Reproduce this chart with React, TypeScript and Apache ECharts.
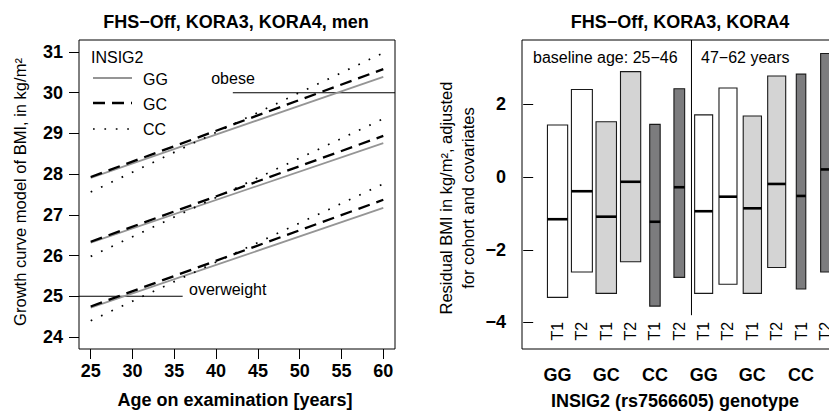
import React, { useEffect, useRef } from "react";
import * as echarts from "echarts";

// ---------- Left panel data (growth curve model) ----------
const ages = [25, 60];
const upperGG = [27.91, 30.39];
const upperGC = [27.93, 30.58];
const upperCC = [27.56, 30.98];
const middleGG = [26.32, 28.76];
const middleGC = [26.34, 28.94];
const middleCC = [25.98, 29.36];
const lowerGG = [24.72, 27.17];
const lowerGC = [24.75, 27.37];
const lowerCC = [24.4, 27.76];
const obeseLevel = 30;
const overweightLevel = 25;
const obeseFromAge = 42;
const overweightToAge = 36;
const leftXTicks = [25, 30, 35, 40, 45, 50, 55, 60];
const leftYTicks = [24, 25, 26, 27, 28, 29, 30, 31];

// ---------- Right panel data (residual BMI boxes) ----------
const boxPositions = [1, 2, 3, 4, 5, 6, 7, 8, 9, 10, 11, 12];
const boxGenotype = ["GG", "GG", "GC", "GC", "CC", "CC", "GG", "GG", "GC", "GC", "CC", "CC"];
const boxTimepoint = ["T1", "T2", "T1", "T2", "T1", "T2", "T1", "T2", "T1", "T2", "T1", "T2"];
const boxLow = [-3.31, -2.61, -3.2, -2.33, -3.55, -2.76, -3.2, -2.95, -3.2, -2.49, -3.08, -2.61];
const boxHigh = [1.43, 2.41, 1.52, 2.9, 1.45, 2.43, 1.71, 2.45, 1.68, 2.78, 2.83, 3.4];
const boxMedian = [-1.16, -0.39, -1.09, -0.13, -1.23, -0.28, -0.94, -0.54, -0.86, -0.19, -0.52, 0.21];
const boxWidth = [0.83, 0.86, 0.84, 0.83, 0.43, 0.44, 0.74, 0.74, 0.75, 0.74, 0.39, 0.39];
const rightYTicks = [-4, -2, 0, 2];
const genotypeLabelPositions = [1, 3, 5, 7, 9, 11];

const FONT = "'Liberation Sans', Arial, Helvetica, sans-serif";
const fillByGenotype: Record<string, string> = { GG: "#ffffff", GC: "#d4d4d4", CC: "#7c7c7e" };

const L_XMIN = 23.6, L_XMAX = 61.4, L_YMIN = 23.705, L_YMAX = 31.295;
const R_XMIN = -0.46, R_XMAX = 12.6, R_YMIN = -4.73, R_YMAX = 3.77;
const T_LABEL_Y = -4.24;
const DIVIDER_X = 6.5, DIVIDER_BOTTOM = -3.8;

function pairs(xs: number[], ys: number[]) {
  return xs.map((x, i) => [x, ys[i]]);
}

export default function App() {
  const ref = useRef<HTMLDivElement>(null);
  useEffect(() => {
    if (!ref.current) return;
    const chart = echarts.init(ref.current, null, { renderer: "svg" });

    const gg = { color: "#959595", width: 1.8, type: "solid" as any };
    const gc = { color: "#000000", width: 2.3, type: [12, 7] as any };
    const cc = { color: "#000000", width: 1.7, type: [1.7, 9.7] as any };

    const lineSeries = (name: string, ys: number[], st: any) => ({
      name,
      type: "line",
      xAxisIndex: 0,
      yAxisIndex: 0,
      data: pairs(ages, ys),
      symbol: "none",
      lineStyle: { color: st.color, width: st.width, type: st.type, cap: "butt" },
      silent: true,
    });

    const tickLabel = {
      fontFamily: FONT,
      fontSize: 18,
      fontWeight: "bold",
      color: "#000",
    };

    const option: any = {
      animation: false,
      backgroundColor: "#fff",
      grid: [
        { left: 79, top: 40, width: 316, height: 309, show: true, borderColor: "#000", borderWidth: 1, backgroundColor: "transparent", containLabel: false, outerBoundsMode: "none" },
        { left: 522, top: 40, width: 318, height: 309, show: true, borderColor: "#000", borderWidth: 1, backgroundColor: "transparent", containLabel: false, outerBoundsMode: "none" },
      ],
      xAxis: [
        {
          type: "value", gridIndex: 0, min: L_XMIN, max: L_XMAX,
          axisLine: { show: false },
          axisTick: { show: true, inside: false, length: 10, lineStyle: { color: "#000", width: 1 }, customValues: leftXTicks },
          axisLabel: { ...tickLabel, margin: 13, customValues: leftXTicks },
          splitLine: { show: false },
        },
        {
          type: "value", gridIndex: 1, min: R_XMIN, max: R_XMAX,
          axisLine: { show: false },
          axisTick: { show: true, inside: false, length: 10, lineStyle: { color: "#000", width: 1 }, customValues: boxPositions },
          axisLabel: {
            ...tickLabel, margin: 17, customValues: genotypeLabelPositions,
            formatter: (v: number) => boxGenotype[Math.round(v) - 1],
          },
          splitLine: { show: false },
        },
      ],
      yAxis: [
        {
          type: "value", gridIndex: 0, min: L_YMIN, max: L_YMAX,
          axisLine: { show: false },
          axisTick: { show: true, inside: false, length: 10, lineStyle: { color: "#000", width: 1 }, customValues: leftYTicks },
          axisLabel: { ...tickLabel, margin: 16, customValues: leftYTicks },
          splitLine: { show: false },
        },
        {
          type: "value", gridIndex: 1, min: R_YMIN, max: R_YMAX,
          axisLine: { show: false },
          axisTick: { show: true, inside: false, length: 10, lineStyle: { color: "#000", width: 1 }, customValues: rightYTicks },
          axisLabel: {
            ...tickLabel, margin: 16, customValues: rightYTicks,
            formatter: (v: number) => (v < 0 ? "\u2212" + Math.abs(v) : String(v)),
          },
          splitLine: { show: false },
        },
      ],
      series: [
        {
          name: "obese", type: "line", xAxisIndex: 0, yAxisIndex: 0, symbol: "none", silent: true,
          data: [[obeseFromAge, obeseLevel], [L_XMAX, obeseLevel]],
          lineStyle: { color: "#000", width: 1.1 },
        },
        {
          name: "overweight", type: "line", xAxisIndex: 0, yAxisIndex: 0, symbol: "none", silent: true,
          data: [[L_XMIN, overweightLevel], [overweightToAge, overweightLevel]],
          lineStyle: { color: "#000", width: 1.1 },
        },
        lineSeries("upper GG", upperGG, gg),
        lineSeries("middle GG", middleGG, gg),
        lineSeries("lower GG", lowerGG, gg),
        lineSeries("upper CC", upperCC, cc),
        lineSeries("middle CC", middleCC, cc),
        lineSeries("lower CC", lowerCC, cc),
        lineSeries("upper GC", upperGC, gc),
        lineSeries("middle GC", middleGC, gc),
        lineSeries("lower GC", lowerGC, gc),
        {
          name: "divider", type: "line", xAxisIndex: 1, yAxisIndex: 1, symbol: "none", silent: true,
          data: [[DIVIDER_X, R_YMAX], [DIVIDER_X, DIVIDER_BOTTOM]],
          lineStyle: { color: "#000", width: 1 },
        },
        {
          name: "boxes", type: "custom", xAxisIndex: 1, yAxisIndex: 1, silent: true,
          data: boxPositions.map((p, i) => [p, boxLow[i], boxHigh[i], boxMedian[i], boxWidth[i]]),
          renderItem: (params: any, api: any) => {
            const x = api.value(0), lo = api.value(1), hi = api.value(2), med = api.value(3), w = api.value(4);
            const p1 = api.coord([x - w / 2, hi]);
            const p2 = api.coord([x + w / 2, lo]);
            const m = api.coord([x, med]);
            const fill = fillByGenotype[boxGenotype[params.dataIndex]];
            return {
              type: "group",
              children: [
                {
                  type: "rect",
                  shape: { x: p1[0], y: p1[1], width: p2[0] - p1[0], height: p2[1] - p1[1] },
                  style: { fill, stroke: "#1a1a1a", lineWidth: 1.1 },
                },
                {
                  type: "line",
                  shape: { x1: p1[0], y1: m[1], x2: p2[0], y2: m[1] },
                  style: { stroke: "#000", lineWidth: 2.6 },
                },
              ],
            };
          },
        },
        {
          name: "timepoints", type: "custom", xAxisIndex: 1, yAxisIndex: 1, silent: true,
          data: boxPositions.map((p) => [p]),
          renderItem: (params: any, api: any) => {
            const c = api.coord([api.value(0), T_LABEL_Y]);
            return {
              type: "text",
              x: c[0], y: c[1], rotation: Math.PI / 2,
              style: {
                text: boxTimepoint[params.dataIndex],
                fontFamily: FONT, fontSize: 16, fill: "#000",
                align: "center", verticalAlign: "middle",
              },
            };
          },
        },
      ],
      graphic: [
        // titles
        { type: "text", x: 236, y: 22, style: { text: "FHS\u2212Off, KORA3, KORA4, men", fontFamily: FONT, fontSize: 18, fontWeight: "bold", fill: "#000", align: "center", verticalAlign: "middle" } },
        { type: "text", x: 680, y: 22, style: { text: "FHS\u2212Off, KORA3, KORA4", fontFamily: FONT, fontSize: 18, fontWeight: "bold", fill: "#000", align: "center", verticalAlign: "middle" } },
        // x axis titles
        { type: "text", x: 235, y: 400, style: { text: "Age on examination [years]", fontFamily: FONT, fontSize: 18, fontWeight: "bold", fill: "#000", align: "center", verticalAlign: "middle" } },
        { type: "text", x: 675, y: 401, style: { text: "INSIG2 (rs7566605) genotype", fontFamily: FONT, fontSize: 18, fontWeight: "bold", fill: "#000", align: "center", verticalAlign: "middle" } },
        // y axis titles
        { type: "text", x: 20, y: 192, rotation: Math.PI / 2, style: { text: "Growth curve model of BMI, in kg/m\u00b2", fontFamily: FONT, fontSize: 16.5, fill: "#000", align: "center", verticalAlign: "middle" } },
        { type: "text", x: 457, y: 198, rotation: Math.PI / 2, style: { text: "Residual BMI in kg/m\u00b2, adjusted\nfor cohort and covariates", fontFamily: FONT, fontSize: 16.5, lineHeight: 21.5, fill: "#000", align: "center", verticalAlign: "middle" } },
        // annotations
        { type: "text", x: 233, y: 78, style: { text: "obese", fontFamily: FONT, fontSize: 16, fill: "#000", align: "center", verticalAlign: "middle" } },
        { type: "text", x: 189, y: 289, style: { text: "overweight", fontFamily: FONT, fontSize: 16, fill: "#000", align: "left", verticalAlign: "middle" } },
        { type: "text", x: 533, y: 57, style: { text: "baseline age: 25\u221246", fontFamily: FONT, fontSize: 16, fill: "#000", align: "left", verticalAlign: "middle" } },
        { type: "text", x: 701, y: 57, style: { text: "47\u221262 years", fontFamily: FONT, fontSize: 16, fill: "#000", align: "left", verticalAlign: "middle" } },
        // legend
        { type: "text", x: 91, y: 57, style: { text: "INSIG2", fontFamily: FONT, fontSize: 16, fill: "#000", align: "left", verticalAlign: "middle" } },
        { type: "line", shape: { x1: 93, y1: 78, x2: 132, y2: 78 }, style: { stroke: gg.color, lineWidth: gg.width } },
        { type: "text", x: 143, y: 79, style: { text: "GG", fontFamily: FONT, fontSize: 16, fill: "#000", align: "left", verticalAlign: "middle" } },
        { type: "line", shape: { x1: 93, y1: 103, x2: 132, y2: 103 }, style: { stroke: "#000", lineWidth: gc.width, lineDash: [12, 7] } },
        { type: "text", x: 143, y: 104, style: { text: "GC", fontFamily: FONT, fontSize: 16, fill: "#000", align: "left", verticalAlign: "middle" } },
        { type: "line", shape: { x1: 93, y1: 129, x2: 132, y2: 129 }, style: { stroke: "#000", lineWidth: cc.width, lineDash: [1.7, 9.7] } },
        { type: "text", x: 143, y: 129, style: { text: "CC", fontFamily: FONT, fontSize: 16, fill: "#000", align: "left", verticalAlign: "middle" } },
      ],
    };

    chart.setOption(option);
    return () => chart.dispose();
  }, []);

  return (
    <div
      ref={ref}
      style={{ position: "fixed", left: 0, top: 0, width: 829, height: 412, background: "#fff" }}
    />
  );
}
